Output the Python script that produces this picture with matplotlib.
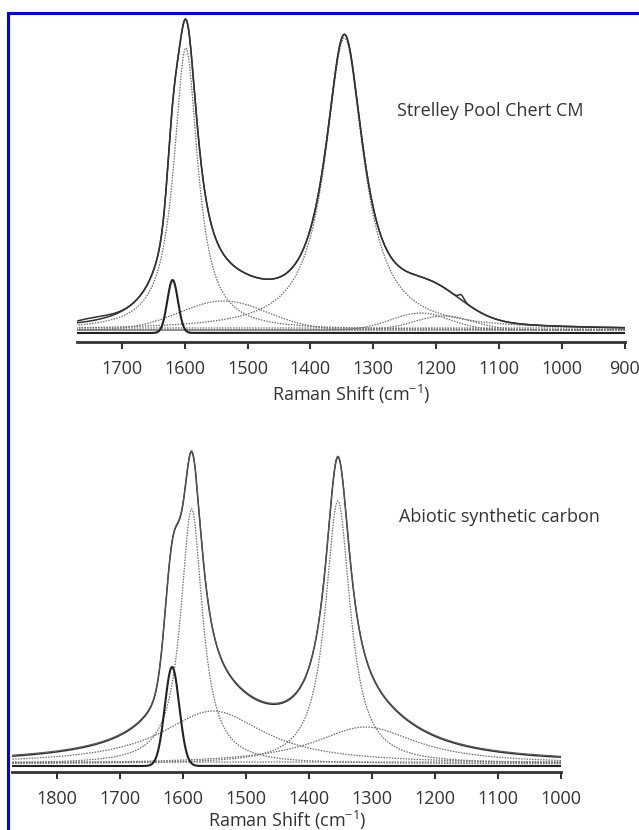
import numpy as np
import matplotlib
matplotlib.use("Agg")
import matplotlib.pyplot as plt
from matplotlib.lines import Line2D

# ---------------- data: top panel (Strelley Pool Chert CM) ----------------
top_title = "Strelley Pool Chert CM"
top_xrange = [1771, 900]
top_ticks = [1700, 1600, 1500, 1400, 1300, 1200, 1100, 1000, 900]
# fitted Lorentzian bands (G, D1): centre, height, FWHM
top_lor_centres = [1598, 1346]
top_lor_heights = [282, 292]
top_lor_fwhm = [46, 74]
# broad fitted Gaussian bands (D3, D4a, D4b)
top_gau_centres = [1538, 1225, 1188]
top_gau_heights = [29, 17, 14]
top_gau_fwhm = [165, 110, 110]
# narrow band (D2): centre, height, FWHM
top_d2 = [1619, 53, 20]
# small features present only in the measured spectrum
top_meas_centres = [1160, 1745]
top_meas_heights = [5, 3]
top_meas_fwhm = [10, 60]
top_offset = 3

# ---------------- data: bottom panel (Abiotic synthetic carbon) ----------------
bot_title = "Abiotic synthetic carbon"
bot_xrange = [1871, 1000]
bot_ticks = [1800, 1700, 1600, 1500, 1400, 1300, 1200, 1100, 1000]
# fitted Lorentzian bands (G, D1, D3, D4)
bot_lor_centres = [1586, 1354, 1552, 1310]
bot_lor_heights = [255, 263, 53, 37]
bot_lor_fwhm = [42, 48, 200, 200]
# narrow band (D2)
bot_d2 = [1617, 99, 27]
bot_offset = 2

ylabel_txt = r"Raman Shift (cm$^{\mathregular{-1}}$)"


def lor(x, c, h, w):
    hw = w / 2.0
    return h * hw ** 2 / ((x - c) ** 2 + hw ** 2)


def gau(x, c, h, w):
    s = w / 2.3548
    return h * np.exp(-0.5 * ((x - c) / s) ** 2)


W, H = 639, 830
fig = plt.figure(figsize=(W / 100, H / 100), dpi=100)
plt.rcParams['font.family'] = ['Open Sans', 'DejaVu Sans']

DOT = dict(color='#6e6e6e', lw=0.9, ls=(0, (1.2, 1.0)))
TOT = dict(color='#333333', lw=1.1)


def style_axis(ax, xr, ticks):
    ax.set_xlim(xr[0], xr[1])
    for s in ['left', 'right', 'top']:
        ax.spines[s].set_visible(False)
    ax.spines['bottom'].set_linewidth(2.0)
    ax.spines['bottom'].set_color('#333333')
    ax.set_yticks([])
    ax.set_xticks(ticks)
    ax.tick_params(axis='x', direction='out', length=5, width=1.5,
                   color='#333333', labelsize=13, labelcolor='#333333', pad=8)
    ax.patch.set_alpha(0)


def px_axes(x0, x1, ytop, ybot):
    return fig.add_axes([x0 / W, 1 - ybot / H, (x1 - x0) / W, (ybot - ytop) / H])


# ---------------- top panel ----------------
ax1 = px_axes(77, 625, 14, 342)
x = np.linspace(top_xrange[1], top_xrange[0], 1500)
comps = []
for c, h, w in zip(top_lor_centres, top_lor_heights, top_lor_fwhm):
    comps.append(lor(x, c, h, w))
for c, h, w in zip(top_gau_centres, top_gau_heights, top_gau_fwhm):
    comps.append(gau(x, c, h, w))
d2 = gau(x, *top_d2)
fit = top_offset + sum(comps) + d2
meas = fit.copy()
for c, h, w in zip(top_meas_centres, top_meas_heights, top_meas_fwhm):
    meas = meas + gau(x, c, h, w)
for comp in comps:
    ax1.plot(x, comp + top_offset, **DOT)
ax1.plot(x, np.full_like(x, top_offset + 2), **DOT)
ax1.plot(x, np.full_like(x, top_offset), **DOT)
ax1.plot(x, d2, color='#222222', lw=1.5)
ax1.plot(x, fit, **TOT)
ax1.plot(x, meas, **TOT)
ax1.set_ylim(-9, 319)
style_axis(ax1, top_xrange, top_ticks)

# ---------------- bottom panel ----------------
ax2 = px_axes(12, 561, 440, 772)
x = np.linspace(bot_xrange[1], bot_xrange[0], 1500)
comps = []
for c, h, w in zip(bot_lor_centres, bot_lor_heights, bot_lor_fwhm):
    comps.append(lor(x, c, h, w))
d2 = gau(x, *bot_d2)
fit = bot_offset + sum(comps) + d2
for comp in comps:
    ax2.plot(x, comp + bot_offset, **DOT)
ax2.plot(x, np.full_like(x, bot_offset + 2), **DOT)
ax2.plot(x, d2, color='#222222', lw=1.5)
ax2.plot(x, fit, **TOT)
ax2.plot(x, fit + 1.0, color='#555555', lw=0.8)
ax2.set_ylim(-6, 326)
style_axis(ax2, bot_xrange, bot_ticks)

# ---------------- texts ----------------
def ftext(xp, yp, s, **kw):
    fig.text(xp / W, 1 - yp / H, s, ha='center', va='center', color='#333333', **kw)

ftext(490, 111, top_title, fontsize=13)
ftext(499, 517, bot_title, fontsize=13)
ftext(351, 394, ylabel_txt, fontsize=13)
ftext(287, 820, ylabel_txt, fontsize=13)

# ---------------- blue frame ----------------
fig.add_artist(Line2D([8 / W, 8 / W], [0, 1 - 13 / H], transform=fig.transFigure,
                      color='#0000ff', lw=2.2, solid_capstyle='projecting'))
fig.add_artist(Line2D([8 / W, 1.0], [1 - 13 / H, 1 - 13 / H], transform=fig.transFigure,
                      color='#0000ff', lw=2.2, solid_capstyle='projecting'))

fig.savefig("out.png", dpi=100)
